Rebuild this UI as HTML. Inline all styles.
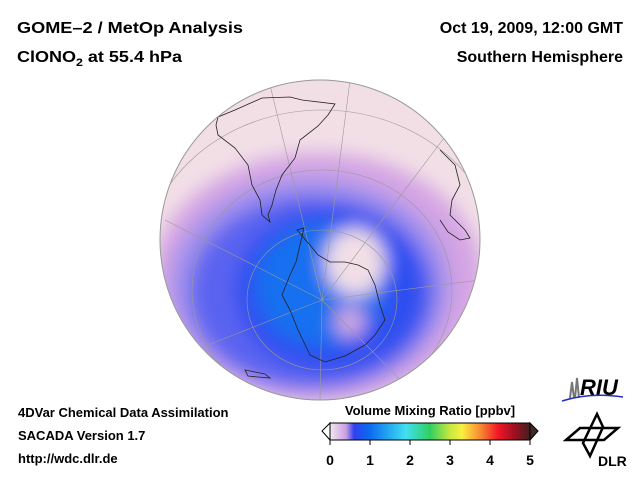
<!DOCTYPE html>
<html><head><meta charset="utf-8"><style>
body{margin:0;width:640px;height:480px;background:#fff;overflow:hidden;font-family:"Liberation Sans",sans-serif}
svg{display:block}
</style></head><body>
<svg width="640" height="480" viewBox="0 0 640 480">
<defs>
<clipPath id="gc"><circle cx="320" cy="240" r="160"/></clipPath>
<filter id="bl" x="-30%" y="-30%" width="160%" height="160%"><feGaussianBlur stdDeviation="9"/></filter>
<linearGradient id="cb" x1="0" x2="1">
<stop offset="0" stop-color="#f4e8ee"/><stop offset="0.08" stop-color="#c8a0e0"/><stop offset="0.12" stop-color="#3040f0"/><stop offset="0.2" stop-color="#0a6cf0"/>
<stop offset="0.38" stop-color="#40e0f0"/><stop offset="0.5" stop-color="#30d060"/><stop offset="0.6" stop-color="#c8e840"/><stop offset="0.66" stop-color="#f8f040"/>
<stop offset="0.76" stop-color="#f88030"/><stop offset="0.84" stop-color="#f01828"/><stop offset="0.92" stop-color="#a01020"/><stop offset="1" stop-color="#402020"/>
</linearGradient>
</defs>
<g font-weight="bold" font-size="16" fill="#000">
<text x="17" y="33" textLength="226" lengthAdjust="spacingAndGlyphs">GOME–2 / MetOp Analysis</text>
<text x="17" y="62" textLength="165" lengthAdjust="spacingAndGlyphs">ClONO<tspan font-size="11" dy="4">2</tspan><tspan dy="-4"> at 55.4 hPa</tspan></text>
</g>
<g font-weight="bold" font-size="16" fill="#000" text-anchor="end">
<text x="623" y="33">Oct 19, 2009, 12:00 GMT</text>
<text x="623" y="62">Southern Hemisphere</text>
</g>
<g clip-path="url(#gc)">
<rect x="150" y="70" width="340" height="340" fill="#f2dfe6"/>
<g filter="url(#bl)">
<ellipse cx="318" cy="278" rx="165" ry="125" fill="#d4a4e4"/>
<ellipse cx="310" cy="285" rx="140" ry="108" fill="#a090ec"/>
<ellipse cx="312" cy="292" rx="122" ry="96" fill="#5a64f0"/>
<ellipse cx="330" cy="290" rx="95" ry="82" fill="#2e50f0"/>
<ellipse cx="320" cy="285" rx="65" ry="62" fill="#1270f0"/>
<ellipse cx="355" cy="262" rx="30" ry="34" fill="#f2dfe6"/>
<ellipse cx="350" cy="322" rx="15" ry="16" fill="#d0a8e0"/>
</g>
<g fill="none" stroke="#999" stroke-width="0.6">
<ellipse cx="322" cy="300" rx="75" ry="70"/><ellipse cx="322" cy="290" rx="130" ry="120"/><ellipse cx="322" cy="270" rx="180" ry="160"/>
<line x1="322" y1="300" x2="270" y2="85"/><line x1="322" y1="300" x2="350" y2="80"/><line x1="322" y1="300" x2="450" y2="130"/>
<line x1="322" y1="300" x2="480" y2="280"/><line x1="322" y1="300" x2="420" y2="400"/><line x1="322" y1="300" x2="320" y2="400"/>
<line x1="322" y1="300" x2="170" y2="360"/><line x1="322" y1="300" x2="165" y2="220"/>
</g>
<g fill="none" stroke="#222" stroke-width="0.8">
<path d="M218,117 L235,110 L262,98 L290,97 L302,100 L335,104 L328,115 L318,126 L300,140 L295,158 L282,175 L276,190 L272,205 L268,215 L270,222 L262,215 L260,200 L252,185 L248,165 L235,148 L218,135 L216,125Z"/>
<path d="M297,230 L304,228 L300,245 L296,262 L290,275 L282,295 L290,310 L298,330 L310,355 L325,362 L345,356 L365,345 L375,335 L385,320 L380,305 L375,285 L368,270 L358,265 L345,262 L330,262 L318,255 L310,245Z"/>
<path d="M440,150 L455,165 L460,185 L452,200 L450,215 L465,230 L470,238 L460,240 L448,232 L440,220"/>
<path d="M245,370 L255,372 L265,374 L270,378 L258,377 L248,376Z"/>
</g>
</g>
<circle cx="320" cy="240" r="160" fill="none" stroke="#999" stroke-width="1"/>
<g font-weight="bold" font-size="13" fill="#000">
<text x="18" y="417">4DVar Chemical Data Assimilation</text>
<text x="18" y="440">SACADA Version 1.7</text>
<text x="18" y="463">http://wdc.dlr.de</text>
</g>
<text x="430" y="415" text-anchor="middle" font-weight="bold" font-size="13">Volume Mixing Ratio [ppbv]</text>
<g id="cbar">
<polygon points="330,423 322,431 330,440" fill="#fff" stroke="#000"/>
<polygon points="530,423 538,431 530,440" fill="#402828" stroke="#000"/>
<rect x="330" y="423" width="200" height="17" fill="url(#cb)" stroke="#000"/>
</g>
<g>
<path d="M570,398 L572,382 L574,398 M575,398 L577,378 L579,398" stroke="#777" stroke-width="2" fill="none"/>
<text x="580" y="395" font-weight="bold" font-style="italic" font-size="22" fill="#000">RIU</text>
<path d="M562,401 Q590,392 623,397" stroke="#2030c0" stroke-width="1.5" fill="none"/>
</g>
<g stroke="#000" stroke-width="2.5" fill="none" stroke-linejoin="miter">
<polygon points="566,440 580,428 618,428 604,440"/>
<polygon points="597,414 603,427 590,456 583,443"/>
<text x="598" y="466" stroke="none" fill="#000" font-weight="bold" font-size="14">DLR</text>
</g>
<script>
const tickValues=[0,1,2,3,4,5];
const tickLabels=["0","1","2","3","4","5"];
const cb=document.getElementById('cbar');
const x=v=>330+v/5*200;
tickValues.forEach((v,i)=>{
 const l=document.createElementNS('http://www.w3.org/2000/svg','line');
 l.setAttribute('x1',x(v));l.setAttribute('x2',x(v));l.setAttribute('y1',440);l.setAttribute('y2',445);l.setAttribute('stroke','#000');
 
 
 cb.appendChild(l);
 const t=document.createElementNS('http://www.w3.org/2000/svg','text');
 t.setAttribute('x',x(v));t.setAttribute('y',465);t.setAttribute('text-anchor','middle');t.setAttribute('font-weight','bold');t.setAttribute('font-size','14');
 t.textContent=tickLabels[i];
 
 
 cb.appendChild(t);
});
</script>
</svg>
</body></html>
